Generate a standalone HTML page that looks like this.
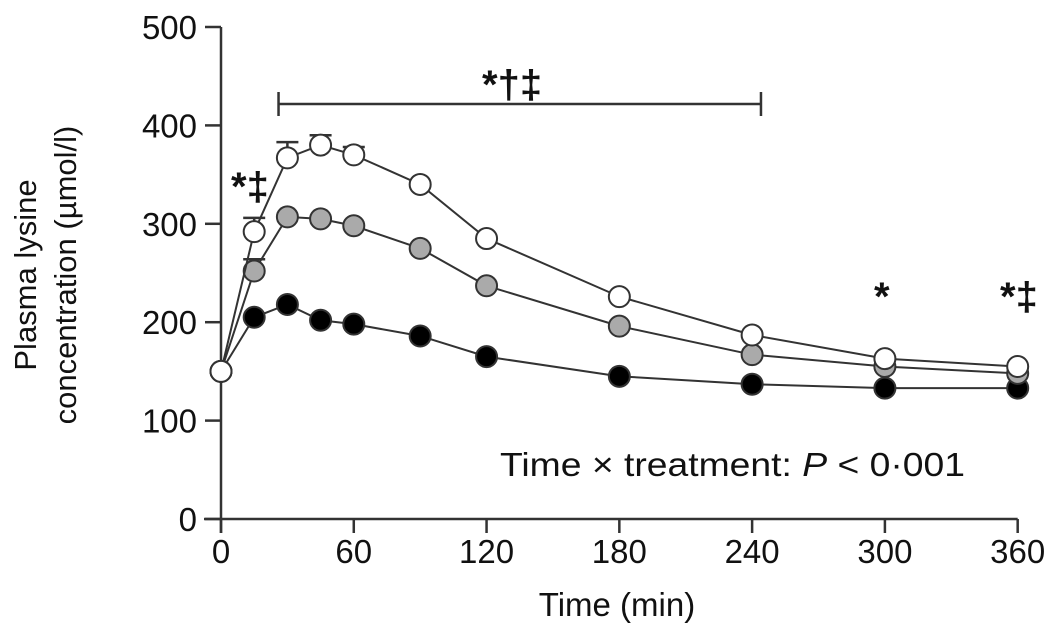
<!DOCTYPE html>
<html><head><meta charset="utf-8"><style>
body{margin:0;background:#fff}
svg{display:block;font-family:"Liberation Sans",Arial,sans-serif}
</style></head><body>
<svg width="1050" height="640" viewBox="0 0 1050 640">
<g id="axes"></g>
<g id="series"></g>
<g font-size="40" font-weight="bold" fill="#111">
<text x="231" y="200">*‡</text>
<text x="482" y="98">*†‡</text>
<text x="874" y="310">*</text>
<text x="1000" y="310">*‡</text>
<text x="500" y="476" font-size="33" font-weight="normal" textLength="465" lengthAdjust="spacingAndGlyphs">Time × treatment: <tspan font-style="italic">P</tspan> &lt; 0·001</text>
</g>
</svg>
<script>
const times=[0,15,30,45,60,90,120,180,240,300,360];
const whiteVals=[150,292,367,380,370,340,285,226,187,163,155];
const grayVals=[150,252,307,305,298,275,237,196,167,155,148];
const blackVals=[150,205,218,202,198,186,165,145,137,133,133];
const whiteErr=[0,14,16,10,8,0,0,0,0,0,0];
const grayErr=[0,12,0,0,0,0,0,0,0,0,0];
const xTicks=[0,60,120,180,240,300,360];
const yTicks=[0,100,200,300,400,500];
const bracket=[26,244];
const NS='http://www.w3.org/2000/svg';
const X=t=>221+t*2.213, Y=v=>519-v*0.984;
function mk(tag,at,parent){const e=document.createElementNS(NS,tag);for(const k in at)e.setAttribute(k,at[k]);parent.appendChild(e);return e;}
const ax=document.getElementById('axes');
let l=mk('line',{x1:221,y1:Y(500),x2:221,y2:533,stroke:'#333','stroke-width':2.5},ax);


l=mk('line',{x1:204,y1:519,x2:X(360),y2:519,stroke:'#333','stroke-width':2.5},ax);


yTicks.forEach(v=>{mk('line',{x1:205,y1:Y(v),x2:221,y2:Y(v),stroke:'#333','stroke-width':2.5},ax);
const t=mk('text',{x:197,y:Y(v)+12,'text-anchor':'end','font-size':33,fill:'#111'},ax);t.textContent=v;

});
xTicks.forEach(v=>{mk('line',{x1:X(v),y1:519,x2:X(v),y2:533,stroke:'#333','stroke-width':2.5},ax);
const t=mk('text',{x:X(v),y:563,'text-anchor':'middle','font-size':33,fill:'#111'},ax);t.textContent=v;

});
let t=mk('text',{x:617,y:616,'text-anchor':'middle','font-size':33,fill:'#111'},ax);t.textContent='Time (min)';


const yt=mk('text',{transform:'translate(0,275) rotate(-90)','text-anchor':'middle','font-size':31,fill:'#111'},ax);


const s1=mk('tspan',{x:0,y:36},yt);s1.textContent='Plasma lysine';
const s2=mk('tspan',{x:0,y:76},yt);s2.textContent='concentration (µmol/l)';
const bk=mk('path',{d:`M${X(bracket[0])},${92}V116M${X(bracket[0])},104H${X(bracket[1])}M${X(bracket[1])},92V116`,stroke:'#333','stroke-width':2.5,fill:'none'},ax);


const sg=document.getElementById('series');
function series(vals,err,fill,name){
 const g=mk('g',{},sg);
 
 
 mk('polyline',{points:times.map((tm,i)=>X(tm)+','+Y(vals[i])).join(' '),fill:'none',stroke:'#333','stroke-width':2},g);
 times.forEach((tm,i)=>{if(err[i]>0){const x=X(tm),y=Y(vals[i]),ye=Y(vals[i]+err[i]);
  mk('path',{d:`M${x},${y}V${ye}M${x-11},${ye}H${x+11}`,stroke:'#333','stroke-width':2.5},g);}});
 times.forEach((tm,i)=>{const c=mk('circle',{cx:X(tm),cy:Y(vals[i]),r:10.5,fill:fill,stroke:'#333','stroke-width':2},g);
  
  });
}
series(blackVals,blackVals.map(()=>0),'#000','series-black');
series(grayVals,grayErr,'#aaa','series-gray');
series(whiteVals,whiteErr,'#fff','series-white');
</script>
</body></html>
